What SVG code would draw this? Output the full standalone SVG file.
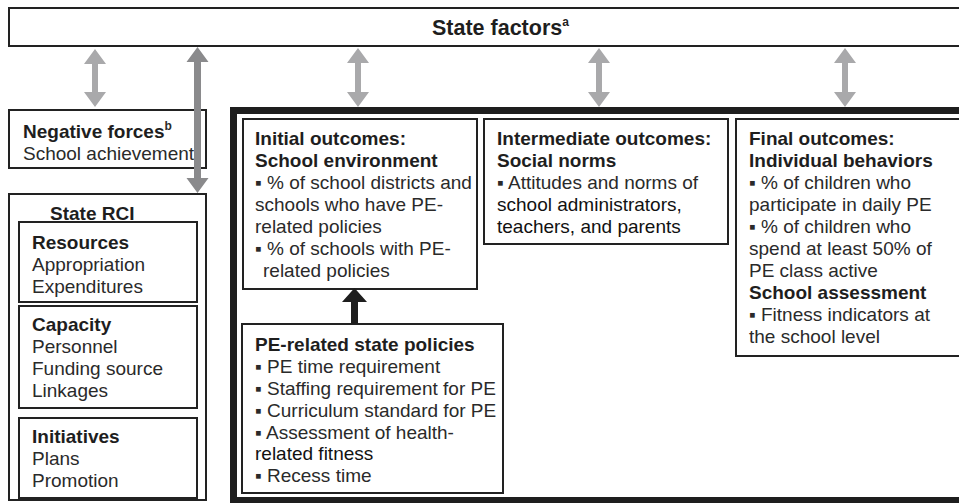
<svg xmlns="http://www.w3.org/2000/svg" width="959" height="503" viewBox="0 0 959 503">
<style>
.box{fill:#fff;stroke:#222;stroke-width:2}
.thick{fill:none;stroke:#1e1e1e;stroke-width:7}
text{font-family:"Liberation Sans",Arial,sans-serif;font-size:19px;fill:#2a2a2a}
.b{font-weight:bold;fill:#1e1e1e}
.sup{font-size:12px;font-weight:bold}
.lt{fill:#a9a9ab}
.dk{fill:#8a8a8c}
.bk{fill:#1e1e1e}
</style>
<rect width="959" height="503" fill="#fff"/>
<g id="state-factors">
<rect class="box" x="9" y="8" width="960" height="38"/>
<text class="b" x="432" y="35" style="font-size:21.5px">State factors<tspan class="sup" dy="-9">a</tspan></text>
</g>
<g id="negative-forces">
<rect class="box" x="9" y="110" width="197" height="58"/>
<text x="23" y="138"><tspan class="b">Negative forces</tspan><tspan class="sup" dy="-8">b</tspan></text>
<text x="23" y="160">School achievement</text>
</g>
<g id="state-rci">
<rect class="box" x="9" y="194" width="197" height="306"/>
<text class="b" x="50" y="220">State RCI</text>
<rect class="box" x="19" y="222" width="178" height="80"/>
<text class="b" x="32" y="249">Resources</text>
<text x="32" y="271">Appropriation</text>
<text x="32" y="293">Expenditures</text>
<rect class="box" x="19" y="306" width="178" height="102"/>
<text class="b" x="32" y="331">Capacity</text>
<text x="32" y="353">Personnel</text>
<text x="32" y="375">Funding source</text>
<text x="32" y="397">Linkages</text>
<rect class="box" x="19" y="418" width="178" height="80"/>
<text class="b" x="32" y="443">Initiatives</text>
<text x="32" y="465">Plans</text>
<text x="32" y="487">Promotion</text>
</g>
<g id="outcomes-frame">
<rect class="thick" x="233.5" y="110.5" width="740" height="390"/>
</g>
<g id="initial-outcomes">
<rect class="box" x="243" y="119" width="234" height="170"/>
<text class="b" x="255" y="145">Initial outcomes:</text>
<text class="b" x="255" y="167">School environment</text>
<text x="255" y="189">▪ % of school districts and</text>
<text x="255" y="211">schools who have PE-</text>
<text x="255" y="233">related policies</text>
<text x="255" y="255">▪ % of schools with PE-</text>
<text x="263" y="277">related policies</text>
</g>
<g id="intermediate-outcomes">
<rect class="box" x="484" y="119" width="244" height="125"/>
<text class="b" x="497" y="145">Intermediate outcomes:</text>
<text class="b" x="497" y="167">Social norms</text>
<text x="497" y="189">▪ Attitudes and norms of</text>
<text x="497" y="211" style="fill:#111">school administrators,</text>
<text x="497" y="233" style="fill:#111">teachers, and parents</text>
</g>
<g id="final-outcomes">
<rect class="box" x="736" y="119" width="240" height="237"/>
<text class="b" x="749" y="145">Final outcomes:</text>
<text class="b" x="749" y="167">Individual behaviors</text>
<text x="749" y="189">▪ % of children who</text>
<text x="749" y="211">participate in daily PE</text>
<text x="749" y="233">▪ % of children who</text>
<text x="749" y="255">spend at least 50% of</text>
<text x="749" y="277">PE class active</text>
<text class="b" x="749" y="299">School assessment</text>
<text x="749" y="321">▪ Fitness indicators at</text>
<text x="749" y="343">the school level</text>
</g>
<g id="pe-policies">
<rect class="box" x="242" y="324" width="261" height="169"/>
<text class="b" x="255" y="351">PE-related state policies</text>
<text x="255" y="373">▪ PE time requirement</text>
<text x="255" y="395">▪ Staffing requirement for PE</text>
<text x="255" y="417">▪ Curriculum standard for PE</text>
<text x="255" y="439">▪ Assessment of health-</text>
<text x="255" y="460" style="fill:#111">related fitness</text>
<text x="255" y="482">▪ Recess time</text>
</g>
<g id="connectors">
<path class="lt" d="M95,49 L106,64 L98,64 L98,92 L106,92 L95,107 L84,92 L92,92 L92,64 L84,64 Z"/>
<path class="lt" d="M358,48 L369,63 L361,63 L361,92 L369,92 L358,107 L347,92 L355,92 L355,63 L347,63 Z"/>
<path class="lt" d="M599,48 L610,63 L602,63 L602,92 L610,92 L599,107 L588,92 L596,92 L596,63 L588,63 Z"/>
<path class="lt" d="M845,48 L856,63 L848,63 L848,92 L856,92 L845,107 L834,92 L842,92 L842,63 L834,63 Z"/>
<path class="dk" d="M197.5,47 L208.5,62 L201,62 L201,178 L208.5,178 L197.5,193 L186.5,178 L194,178 L194,62 L186.5,62 Z"/>
<path class="bk" d="M354.5,288 L367,302 L358,302 L358,324 L351,324 L351,302 L342,302 Z"/>
</g>
</svg>
